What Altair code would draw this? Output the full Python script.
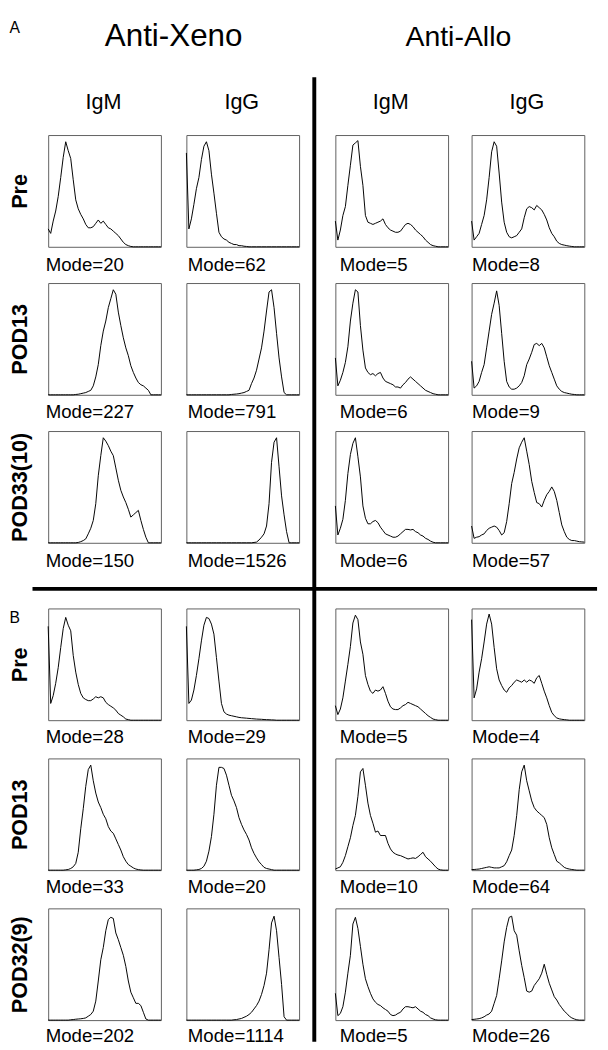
import altair as alt
import pandas as pd

FONT = "Liberation Sans"

# ---------------- data ----------------
BINS = [0, 1, 2, 3, 4, 5, 6, 7, 8, 9, 10, 11, 12, 13, 14, 15, 16, 17, 18, 19, 20, 21, 22,
        23, 24, 25, 26, 27, 28, 29, 30, 31, 32, 33, 34, 35, 36, 37, 38, 39, 40, 41, 42, 43, 44, 45]

# Panel A, Pre
XENO_IGM_A_PRE = [16, 12, 23, 32, 45, 62, 80, 94, 86, 79, 60, 42, 34, 29, 25, 20, 17, 17, 18, 21, 24, 21, 23,
                  20, 17, 16, 14, 12, 10, 7, 4, 2, 1, 0.3, 0, 0, 0, 0, 0, 0, 0, 0, 0, 0, 0, 0]
XENO_IGG_A_PRE = [84, 16, 25, 38, 52, 62, 78, 90, 94, 86, 65, 48, 30, 13, 9, 7, 6, 4, 3, 2, 2, 1, 1,
                  0.5, 0.3, 0, 0, 0, 0, 0, 0, 0, 0, 0, 0, 0, 0, 0, 0, 0, 0, 0, 0, 0, 0, 0]
ALLO_IGM_A_PRE = [23, 6, 15, 28, 36, 55, 73, 91, 93, 95, 72, 55, 28, 22, 21, 20, 21, 22, 23, 25, 20, 17, 15,
                  14, 13, 13, 14, 17, 20, 21, 20, 18, 15, 13, 11, 9, 6, 4, 2, 1, 0.5, 0, 0, 0, 0, 0]
ALLO_IGG_A_PRE = [23, 6, 9, 12, 20, 28, 42, 62, 85, 94, 90, 66, 40, 22, 13, 9, 8, 9, 10, 13, 16, 26, 34,
                  36, 35, 33, 37, 35, 33, 29, 24, 17, 12, 9, 5, 3, 2, 1.5, 1, 0.6, 0.3, 0, 0, 0, 0, 0]

# Panel A, POD13
XENO_IGM_A_POD13 = [0, 0, 0, 0, 0, 0, 0, 0, 0, 0, 0, 0.3, 0.5, 1, 1.5, 2, 3, 4, 8, 16, 27, 44, 57,
                    66, 78, 86, 94, 90, 74, 62, 51, 42, 35, 26, 20, 15, 11, 9, 8, 6, 4, 0, 0, 0, 0, 0]
XENO_IGG_A_POD13 = [0, 0, 0, 0, 0, 0, 0, 0, 0, 0, 0, 0, 0, 0, 0, 0, 0, 0, 0.3, 0.5, 0.7, 1, 1.5,
                    2, 3, 4, 10, 15, 22, 32, 42, 57, 75, 92, 94, 78, 55, 33, 16, 2, 0, 0, 0, 0, 0, 0]
ALLO_IGM_A_POD13 = [33, 8, 13, 20, 29, 43, 66, 82, 94, 92, 62, 40, 24, 20, 18, 19, 17, 19, 20, 15, 12, 11, 10,
                    9, 7, 7, 6, 9, 11, 14, 16, 14, 12, 10, 8, 6, 4, 3, 2, 1, 0.5, 0, 0, 0, 0, 0]
ALLO_IGG_A_POD13 = [30, 6, 8, 12, 20, 27, 42, 57, 72, 82, 93, 80, 55, 30, 12, 7, 5, 5, 6, 8, 11, 17, 27,
                    32, 38, 45, 46, 44, 46, 42, 34, 26, 20, 14, 8, 5, 3, 2, 1.5, 1, 0.5, 0.3, 0, 0, 0, 0]

# Panel A, POD33(10)
XENO_IGM_A_POD33 = [0, 0, 0, 0, 0, 0, 0, 0, 0, 0, 0, 0, 0.3, 1, 2, 3.5, 8, 13, 20, 35, 60, 78, 94,
                    91, 87, 82, 78, 67, 56, 47, 41, 36, 30, 23, 25, 27, 29, 20, 12, 5, 0, 0, 0, 0, 0, 0]
XENO_IGG_A_POD33 = [0, 0, 0, 0, 0, 0, 0, 0, 0, 0, 0, 0, 0, 0, 0, 0, 0, 0, 0, 0, 0, 0, 0,
                    0, 0, 0, 0, 0.3, 0.6, 2.5, 5, 8, 15, 35, 72, 90, 94, 68, 42, 25, 10, 0, 0, 0, 0, 0]
ALLO_IGM_A_POD33 = [33, 7, 13, 21, 38, 62, 79, 89, 94, 77, 59, 33, 22, 17, 17, 19, 20, 18, 14, 11, 8, 7, 6,
                    5, 5, 6, 8, 10, 12, 12, 11.5, 12, 10, 9, 7, 6, 4, 3, 1.5, 0.5, 0, 0, 0, 0, 0, 0]
ALLO_IGG_A_POD33 = [15, 4, 5, 5.5, 7, 8, 11, 13, 14, 15, 14, 11, 7, 9, 19, 35, 53, 63, 75, 85, 90, 94, 82,
                    70, 55, 45, 36, 35, 32, 38, 43, 46, 50, 46, 38, 27, 16, 10, 5, 3, 2, 2, 1.5, 1, 0.8, 0.6]

# Panel B, Pre
XENO_IGM_B_PRE = [84, 15, 22, 33, 47, 65, 82, 92, 85, 80, 58, 43, 32, 24, 20, 18.5, 17.5, 17.5, 19, 21, 20, 21, 20,
                  16, 14, 12.5, 11, 9, 6, 4.5, 3, 1, 0.5, 0, 0, 0, 0, 0, 0, 0, 0, 0, 0, 0, 0, 0]
XENO_IGG_B_PRE = [84, 15, 18, 27, 40, 55, 71, 85, 92, 91, 86, 77, 56, 35, 15, 7.5, 5.5, 4.5, 4, 3.5, 3, 2.5, 2.2,
                  2, 1.8, 1.6, 1.4, 1.2, 1, 0.9, 0.8, 0.6, 0.5, 0.4, 0.3, 0.2, 0, 0, 0, 0, 0, 0, 0, 0, 0, 0]
ALLO_IGM_B_PRE = [13, 5, 10, 20, 35, 50, 66, 87, 94, 90, 70, 59, 40, 32, 26, 24, 27, 26, 27, 30, 24, 17, 12,
                  10, 9.5, 9.5, 11, 13, 14, 16, 15, 14, 13, 12, 10, 8, 6, 4, 2.5, 1, 0.5, 0, 0, 0, 0, 0]
ALLO_IGG_B_PRE = [90, 20, 28, 43, 55, 70, 86, 95, 86, 65, 46, 36, 31, 27, 25, 29, 31, 34, 36, 35, 34, 36, 34,
                  36, 35, 33, 38, 40, 33, 26, 20, 13, 7, 4, 2, 1.2, 0.8, 0.5, 0.3, 0, 0, 0, 0, 0, 0, 0]

# Panel B, POD13
XENO_IGM_B_POD13 = [0, 0, 0, 0, 0, 0, 0, 0.3, 0.6, 1.5, 3, 6, 16, 37, 55, 75, 90, 94, 80, 69, 61, 56, 50,
                    46, 39, 35, 33, 28, 23, 18, 12, 8, 5, 3.5, 2, 1, 0.5, 0.2, 0, 0, 0, 0, 0, 0, 0, 0]
XENO_IGG_B_POD13 = [0, 0, 0, 0, 0.3, 0.6, 1.5, 3.5, 8, 17, 30, 50, 76, 92, 92, 91, 85, 76, 67, 62, 56, 47, 41,
                    36, 32, 27, 20, 15, 11, 7.5, 5, 2.5, 1.5, 1, 0.5, 0, 0, 0, 0, 0, 0, 0, 0, 0, 0, 0]
ALLO_IGM_B_POD13 = [1, 2, 3, 7, 13, 21, 29, 40, 49, 66, 88, 91, 76, 60, 49, 42, 34, 35, 31, 31, 31, 24, 19,
                    16, 14.5, 13.5, 13, 12, 11, 10, 10.5, 11, 10.5, 12, 14, 16, 12, 10, 8, 5.5, 3, 1, 0.3, 0, 0, 0]
ALLO_IGG_B_POD13 = [0.5, 0.6, 0.8, 1, 1.5, 2, 2.5, 3, 2.5, 2, 2, 2, 3, 4, 7.5, 13, 18, 31, 49, 72, 88, 94, 80,
                    71, 62, 56, 53, 51, 49, 47, 41, 29, 20, 14, 8, 6.5, 4.5, 2.5, 1.5, 1, 0.6, 0.3, 0, 0, 0, 0]

# Panel B, POD32(9)
XENO_IGM_B_POD32 = [0, 0, 0, 0, 0, 0, 0, 0, 0, 0.3, 0.5, 0.8, 1, 1.2, 1.5, 2, 3.5, 5, 8, 17, 35, 54, 65,
                    80, 90, 92, 91, 78, 72, 65, 58, 48, 35, 25, 20, 15, 15, 13, 7, 1, 0, 0, 0, 0, 0, 0]
XENO_IGG_B_POD32 = [0, 0, 0, 0, 0, 0, 0, 0, 0, 0, 0, 0, 0, 0, 0, 0, 0, 0, 0, 0.3, 0.5, 1, 1.5,
                    2.5, 3.5, 5, 7, 10, 13, 17, 23, 31, 42, 63, 87, 93, 80, 56, 32, 3, 0, 0, 0, 0, 0, 0]
ALLO_IGM_B_POD32 = [24, 4, 6, 12, 25, 42, 58, 86, 92, 82, 66, 50, 37, 30, 24, 19, 16, 14, 13, 11, 9.5, 8, 5,
                    4, 4.5, 6, 7, 10, 12, 12, 11.5, 11, 12, 10, 8, 7, 5, 4, 2, 1, 0.3, 0, 0, 0, 0, 0]
ALLO_IGG_B_POD32 = [0.5, 0.7, 1, 1.3, 2, 3, 4.5, 5.5, 8, 15, 22, 37, 53, 70, 83, 92, 93, 80, 76, 62, 49, 38, 26,
                    25, 26, 31, 34, 37, 42, 50, 41, 33, 27, 21, 18, 14, 11, 8, 6, 3.5, 2, 1, 0.3, 0, 0, 0]

SECTIONS = ["A", "B"]
GROUPS = ["Anti-Xeno", "Anti-Allo"]
ISOTYPES = ["IgM", "IgG", "IgM", "IgG"]
ROW_LABELS = ["Pre", "POD13", "POD33(10)", "Pre", "POD13", "POD32(9)"]
MODE_LABELS = [
    ["Mode=20", "Mode=62", "Mode=5", "Mode=8"],
    ["Mode=227", "Mode=791", "Mode=6", "Mode=9"],
    ["Mode=150", "Mode=1526", "Mode=6", "Mode=57"],
    ["Mode=28", "Mode=29", "Mode=5", "Mode=4"],
    ["Mode=33", "Mode=20", "Mode=10", "Mode=64"],
    ["Mode=202", "Mode=1114", "Mode=5", "Mode=26"],
]
HISTOGRAMS = [
    [XENO_IGM_A_PRE, XENO_IGG_A_PRE, ALLO_IGM_A_PRE, ALLO_IGG_A_PRE],
    [XENO_IGM_A_POD13, XENO_IGG_A_POD13, ALLO_IGM_A_POD13, ALLO_IGG_A_POD13],
    [XENO_IGM_A_POD33, XENO_IGG_A_POD33, ALLO_IGM_A_POD33, ALLO_IGG_A_POD33],
    [XENO_IGM_B_PRE, XENO_IGG_B_PRE, ALLO_IGM_B_PRE, ALLO_IGG_B_PRE],
    [XENO_IGM_B_POD13, XENO_IGG_B_POD13, ALLO_IGM_B_POD13, ALLO_IGG_B_POD13],
    [XENO_IGM_B_POD32, XENO_IGG_B_POD32, ALLO_IGM_B_POD32, ALLO_IGG_B_POD32],
]
for _row in HISTOGRAMS:
    for _v in _row:
        assert len(_v) == len(BINS), len(_v)

# ---------------- layout / style (pixels) ----------------
PANEL_W, PANEL_H = 115, 114
COL_WIDTHS = [PANEL_W, 26, PANEL_W, 37, PANEL_W, 24, PANEL_W]
ROW_HEIGHTS = [PANEL_H, 37, PANEL_H, 37, PANEL_H, 67, PANEL_H, 39, PANEL_H, 39, PANEL_H]
MODE_DX = [-3, 1, 4, 0]
MODE_DY = [24, 23, 24, 23, 23, 22]
BOX_COLOR = "#5e5e5e"

XS = alt.Scale(domain=[0, 45], nice=False, zero=False)
YS = alt.Scale(domain=[0, 100], nice=False, zero=True)
ONE_ROW = pd.DataFrame({"k": [0]})


def text_axis(orient, text, size, tx, ty, align="center", angle=0, weight="normal"):
    return alt.Axis(orient=orient, title=text, labels=False, ticks=False, domain=False, grid=False,
                    titleX=tx, titleY=ty, titleAlign=align, titleAngle=angle,
                    titleBaseline="alphabetic", titleFont=FONT, titleFontSize=size,
                    titleFontWeight=weight, titleColor="black", titleLimit=2000, titlePadding=0)


def blank_axis(orient):
    return alt.Axis(orient=orient, title="", labels=False, ticks=False, domain=False, grid=False)


def panel(r, c):
    df = pd.DataFrame({"channel": BINS, "count": HISTOGRAMS[r][c]})
    x_axis = text_axis("bottom", MODE_LABELS[r][c], 19, MODE_DX[c], MODE_DY[r], align="left")
    if c == 0:
        y_axis = text_axis("left", ROW_LABELS[r], 22, -22, PANEL_H / 2, angle=270, weight="bold")
    else:
        y_axis = blank_axis("left")
    line = alt.Chart().mark_line(color="black", strokeWidth=1).encode(
        x=alt.X("channel:Q", scale=XS, axis=x_axis),
        y=alt.Y("count:Q", scale=YS, axis=y_axis),
    )
    layers = [line]

    top_axis = None
    right_axis = None
    if r == 0:
        top_axis = text_axis("top", ISOTYPES[c], 22, 56, -27)
        if c == 0:
            right_axis = text_axis("right", GROUPS[0], 32, 12.5, -91)
        elif c == 1:
            right_axis = text_axis("right", SECTIONS[0], 16, -296, -105, align="left")
        elif c == 2:
            right_axis = text_axis("right", GROUPS[1], 29, 10, -91)
    if r == 3 and c == 0:
        right_axis = text_axis("right", SECTIONS[1], 16, -155, 14, align="left")
    if top_axis is not None or right_axis is not None:
        ghost = alt.Chart().mark_line(strokeOpacity=0).encode(
            x=alt.X("channel:Q", scale=XS,
                    axis=top_axis if top_axis is not None else blank_axis("top")),
            y=alt.Y("count:Q", scale=YS,
                    axis=right_axis if right_axis is not None else blank_axis("right")),
        )
        layers.append(ghost)

    # separators between the Xeno / Allo halves and the A / B parts
    if r == 0 and c == 1:
        layers.append(alt.Chart(ONE_ROW).mark_rule(color="black", strokeWidth=4).encode(
            x=alt.value(130.5), y=alt.value(-59), y2=alt.value(925)))
    if r == 2 and c == 0:
        layers.append(alt.Chart(ONE_ROW).mark_rule(color="black", strokeWidth=4).encode(
            x=alt.value(-16), x2=alt.value(560), y=alt.value(161)))

    return alt.layer(*layers, data=df).properties(
        width=PANEL_W, height=PANEL_H,
        view=alt.ViewBackground(stroke=BOX_COLOR, strokeWidth=1))


def spacer(w, h):
    return alt.Chart(ONE_ROW).mark_point(opacity=0).properties(
        width=w, height=h, view=alt.ViewBackground(stroke="transparent"))


cells = []
for gr, rh in enumerate(ROW_HEIGHTS):
    for gc, cw in enumerate(COL_WIDTHS):
        if gr % 2 == 0 and gc % 2 == 0:
            cells.append(panel(gr // 2, gc // 2))
        else:
            cells.append(spacer(cw, rh))

chart = alt.concat(*cells, columns=7, spacing=0, bounds="flush", align="each").properties(
    padding=0
).configure(font=FONT).configure_view(stroke="transparent")

chart.save("out.html", embed_options={"renderer": "svg", "actions": False})
